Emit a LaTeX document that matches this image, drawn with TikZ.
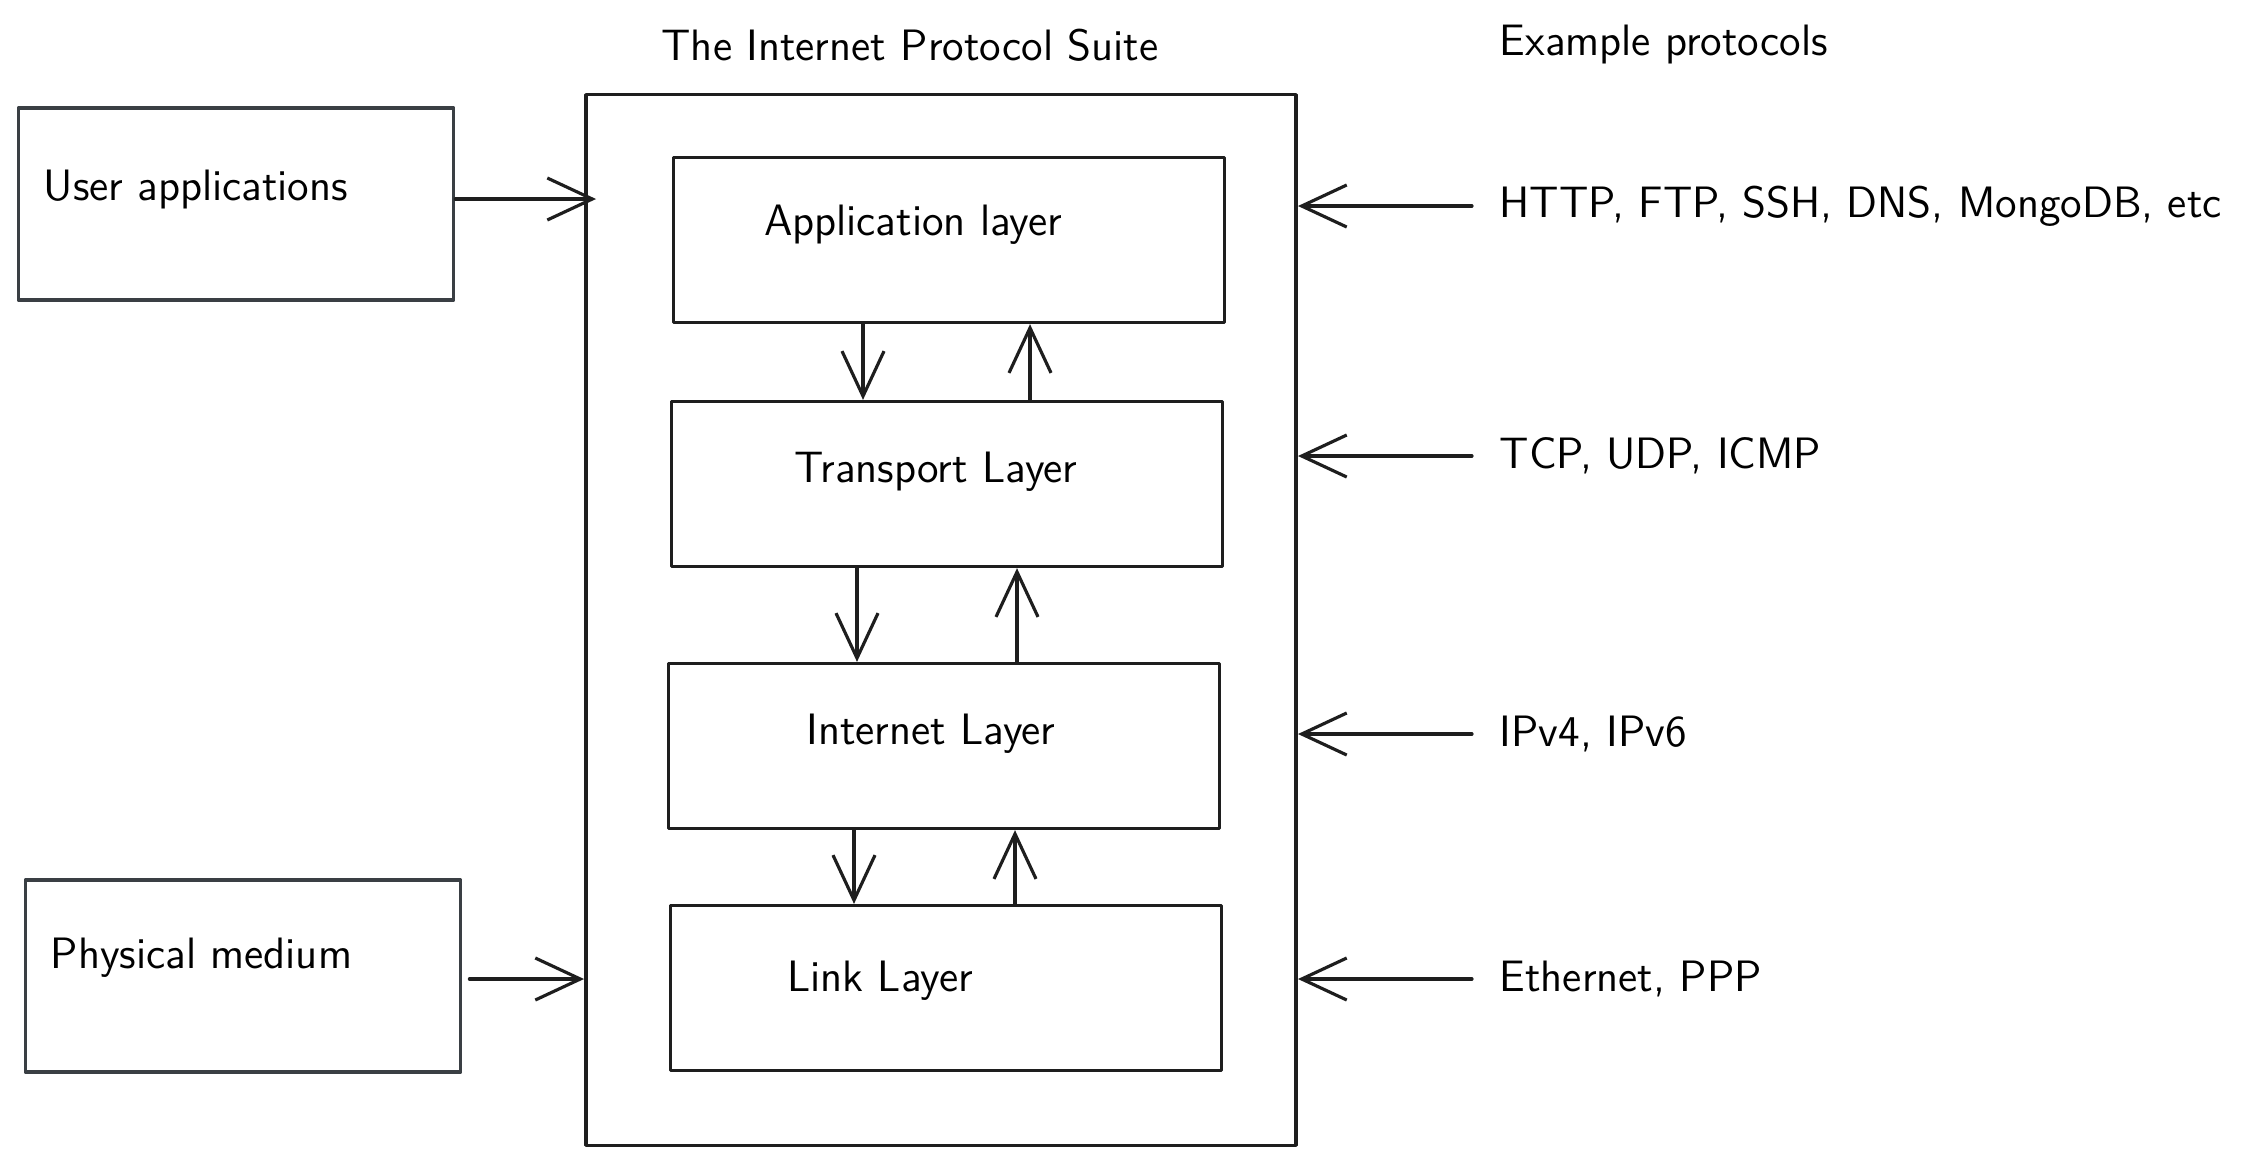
\documentclass[tikz,border=0pt]{standalone}
\usetikzlibrary{arrows.meta}
\definecolor{netk}{HTML}{1E1E1E}
\definecolor{sidek}{HTML}{3A3F44}
\tikzset{
	layer/.style={draw=netk,line width=0.9pt,minimum width=5.5cm,minimum height=1.65cm},
	sidebox/.style={draw=sidek,line width=1pt,minimum width=4.35cm,minimum height=1.92cm},
	lbl/.style={inner sep=0pt,text=black},
	arr/.style={->,draw=netk,line width=0.9pt},
}
\begin{document}
\begin{tikzpicture}[x=0.01cm,y=-0.01cm,line join = round, line cap = round,>={Straight Barb[length=0.45cm,width=0.42cm]},font=\sffamily\fontsize{12.5}{15}\selectfont]
	\useasboundingbox (0,0) rectangle (2258,1163);
	%Vẽ khung ngoài và tiêu đề
	\node[draw=netk,line width=1pt,minimum width=7.1cm,minimum height=10.5cm] (suite) at (941,620) {};
	\node[lbl] (title) at (910,45) {The Internet Protocol Suite};
	\node[lbl,anchor=west] (extitle) at (1499,45) {Example protocols};
	%Vẽ các tầng
	\node[layer] (app) at (949,240) {};
	\node[layer] (trans) at (947,484) {};
	\node[layer] (inet) at (944,746) {};
	\node[layer] (link) at (946,988) {};
	\node[lbl] (applbl) at (913,225) {Application layer};
	\node[lbl] (translbl) at (936,472) {Transport Layer};
	\node[lbl] (inetlbl) at (931,734) {Internet Layer};
	\node[lbl] (linklbl) at (880,981) {Link Layer};
	%Mũi tên giữa các tầng
	\foreach \a/\b/\xd/\xu in {app/trans/863/1030,trans/inet/857/1017,inet/link/854/1015} {
		\draw[arr] (\xd,0 |- \a.south) -- (\xd,0 |- \b.north);
		\draw[arr] (\xu,0 |- \b.north) -- (\xu,0 |- \a.south);
	}
	%Vẽ hai khối bên trái
	\node[sidebox] (user) at (236,204) {};
	\node[sidebox] (phys) at (243,976) {};
	\node[lbl,anchor=west] (userlbl) at (43,189) {User applications};
	\node[lbl,anchor=west] (physlbl) at (50,958) {Physical medium};
	\draw[arr,shorten >=-0.12cm] (user.east |- 0,199) -- (suite.west |- 0,199);
	\draw[arr,shorten <=0.07cm] (phys.east |- 0,979) -- (suite.west |- 0,979);
	%Các giao thức ví dụ
	\foreach \i/\y/\t in {1/206/{HTTP, FTP, SSH, DNS, MongoDB, etc},2/456/{TCP, UDP, ICMP},3/734/{IPv4, IPv6},4/979/{Ethernet, PPP}} {
		\node[lbl,anchor=west] (p\i) at (1499,\y) {\t};
		\draw[arr,shorten <=0.27cm] (p\i.west) -- (p\i.west -| suite.east);
	}
\end{tikzpicture}
\end{document}
